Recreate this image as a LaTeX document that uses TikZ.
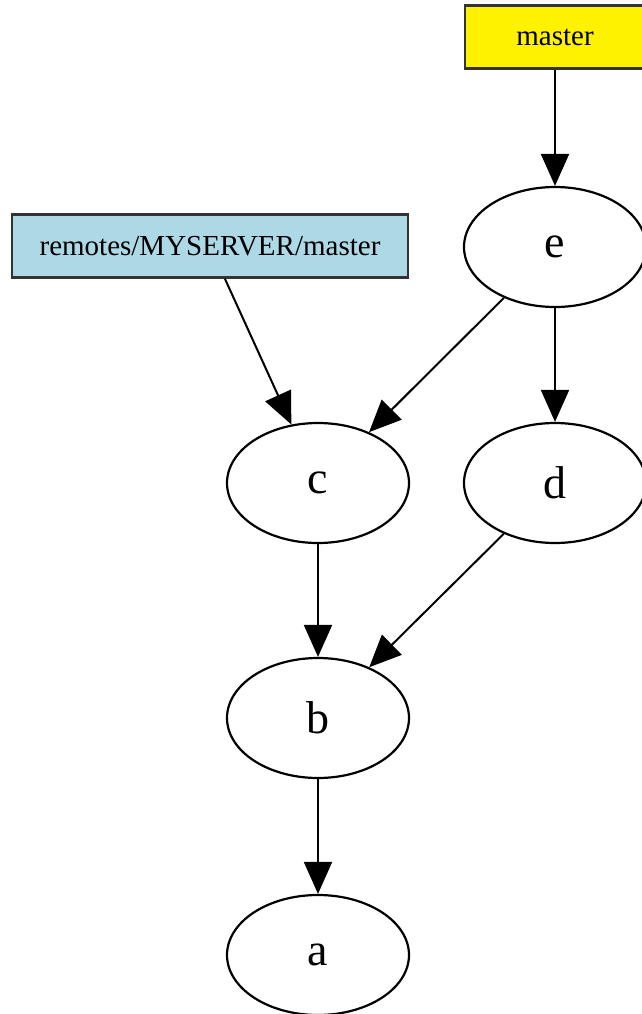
\documentclass[tikz,border=0pt]{standalone}
\usepackage{fontspec}
\setmainfont{Liberation Serif}
\usetikzlibrary{arrows.meta,shapes.geometric}
\definecolor{remoteblue}{HTML}{ADD8E6}
\begin{document}
\begin{tikzpicture}[x=0.5pt, y=-0.5pt,
        commit/.style={draw, line width=1.1pt, ellipse, minimum width=91pt, minimum height=60pt, inner sep=0pt, font=\fontsize{23}{24}\selectfont},
        branch/.style={draw=black!80, line width=1.3pt, rectangle, minimum height=31.5pt, inner sep=0pt, font=\fontsize{14.5}{15}\selectfont},
        link/.style={line width=1pt, -{Triangle[length=16pt, width=14pt]}}]
        \useasboundingbox (0,0) rectangle (642,1014);
        \node[branch, fill=yellow, minimum width=90pt] (master) at (555,37) {master};
        \node[branch, fill=remoteblue, minimum width=198pt] (remote) at (210,246) {remotes/MYSERVER/master};
        \node[commit] (e) at (555,247) {e};
        \node[commit] (c) at (318,483) {c};
        \node[commit] (d) at (555,483) {d};
        \node[commit] (b) at (318,718) {b};
        \node[commit] (a) at (318,955) {a};
        \draw[link] (master) -- (e);
        \draw[link] (remote) -- (c);
        \draw[link] (e) -- (c);
        \draw[link] (e) -- (d);
        \draw[link] (c) -- (b);
        \draw[link] (d) -- (b);
        \draw[link] (b) -- (a);
    \end{tikzpicture}
\end{document}
